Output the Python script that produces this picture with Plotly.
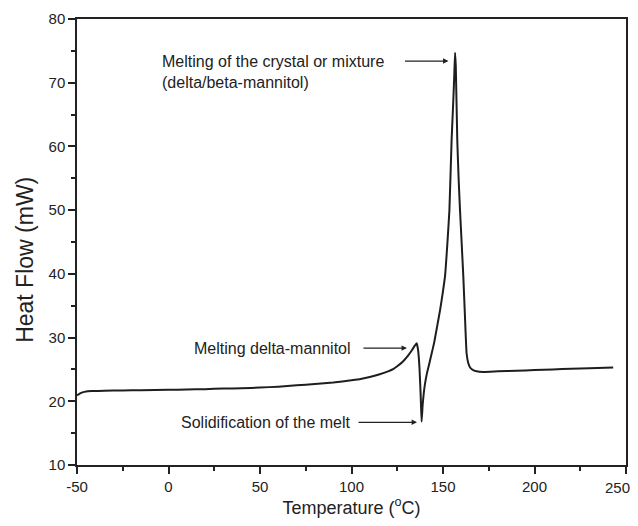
import plotly.graph_objects as go

temperature = [-50, -48.5, -47, -45, -42, -35, -25, -15, 0, 10, 20, 30, 40, 50, 60, 70, 80, 90, 100,
               105, 110, 115, 120, 123, 125, 128, 131, 133, 134.5, 135.6, 136.4, 137.1, 137.8, 138.3,
               138.9, 139.5, 140.2, 141.3, 142.5, 143.8, 145.1, 146.7, 148.4, 149.8, 151.1, 152.4,
               153.5, 154.7, 155.6, 156.2, 156.6, 157.0, 157.8, 158.6, 159.3, 160.2, 161.1, 162.0,
               162.9, 163.8, 164.8, 166.5, 168.4, 172, 180, 190, 200, 210, 220, 230, 243]
heat_flow = [20.9, 21.2, 21.4, 21.55, 21.6, 21.65, 21.7, 21.75, 21.8, 21.85, 21.9, 22.0, 22.05, 22.15,
             22.3, 22.5, 22.7, 22.95, 23.3, 23.5, 23.8, 24.2, 24.7, 25.1, 25.5, 26.2, 27.2, 28.0, 28.7,
             29.1, 28.0, 25.5, 21.0, 16.8, 19.5, 21.3, 22.8, 24.5, 25.9, 27.5, 29.1, 31.6, 34.3, 36.9,
             39.6, 44.8, 50.0, 61.0, 67.0, 71.5, 74.7, 72.5, 61.0, 54.5, 50.0, 44.8, 39.6, 33.3,
             27.5, 26.0, 25.3, 24.9, 24.7, 24.6, 24.7, 24.8, 24.9, 25.0, 25.1, 25.2, 25.3]

x_ticks = [-50, 0, 50, 100, 150, 200, 250]
x_tick_text = ["-50", "0", "50", "100", "150", "200", "250"]
y_ticks = [10, 20, 30, 40, 50, 60, 70, 80]

ann_labels = ["Melting of the crystal or mixture<br>(delta/beta-mannitol)",
              "Melting delta-mannitol",
              "Solidification of the melt"]
ann_target_x = [153.0, 130.3, 135.8]
ann_target_y = [73.4, 28.35, 16.7]
ann_text_x = [-4.6, 100.8, 100.8]
ann_text_y = [71.7, 28.35, 16.7]
ann_arrow_len = [-45, -45, -60]

fig = go.Figure()
fig.add_trace(go.Scatter(x=temperature, y=heat_flow, mode="lines",
                         line=dict(color="#1e1e1e", width=2, shape="spline", smoothing=0.4),
                         showlegend=False))

font_family = "Liberation Sans, Arial, sans-serif"

for i in range(3):
    fig.add_annotation(x=ann_target_x[i], y=ann_target_y[i], xref="x", yref="y",
                       ax=ann_arrow_len[i], ay=0, showarrow=True, arrowhead=2, arrowsize=0.9,
                       arrowwidth=1.2, arrowcolor="#222", text="", standoff=0, startstandoff=0)
    fig.add_annotation(x=ann_text_x[i], y=ann_text_y[i], xref="x", yref="y",
                       xanchor="left" if i == 0 else "right", yanchor="middle",
                       text=ann_labels[i], showarrow=False, align="left",
                       font=dict(size=16, color="#222", family=font_family))

# y-axis title (placed as rotated text, slightly below the axis centre as in the original)
fig.add_annotation(x=-0.0947, y=0.46, xref="paper", yref="paper", xanchor="center",
                   yanchor="middle", textangle=-90, text="Heat Flow (mW)", showarrow=False,
                   font=dict(size=23, color="#222", family=font_family))

# last x tick label, nudged left so it stays inside the picture
shown_tick_text = x_tick_text[:-1] + [""]
fig.add_annotation(x=x_ticks[-1], y=0, xref="x", yref="paper", xanchor="center",
                   yanchor="middle", xshift=-9, yshift=-22, text=x_tick_text[-1],
                   showarrow=False, font=dict(size=15, color="#222", family=font_family))

axis_common = dict(showgrid=False, zeroline=False, showline=True, linecolor="#222", linewidth=1.5,
                   mirror=True, ticks="outside", ticklen=7, tickwidth=1.5, tickcolor="#222",
                   automargin=False, ticklabeloverflow="allow",
                   tickfont=dict(size=15, color="#222", family=font_family))

fig.update_xaxes(range=[-50, 250], tickvals=x_ticks, ticktext=shown_tick_text,
                 minor=dict(ticks="outside", ticklen=4, tickwidth=1.5, tickcolor="#222", dtick=25),
                 title=dict(text="Temperature (<sup>o</sup>C)", standoff=10,
                            font=dict(size=18, color="#222", family=font_family)),
                 **axis_common)
fig.update_yaxes(range=[10, 80], tickvals=y_ticks,
                 minor=dict(ticks="outside", ticklen=4, tickwidth=1.5, tickcolor="#222", dtick=5),
                 **axis_common)

fig.update_layout(width=630, height=510, plot_bgcolor="white", paper_bgcolor="white",
                  margin=dict(l=69, r=12, t=11, b=53, autoexpand=False))

fig.write_html("out.html")
